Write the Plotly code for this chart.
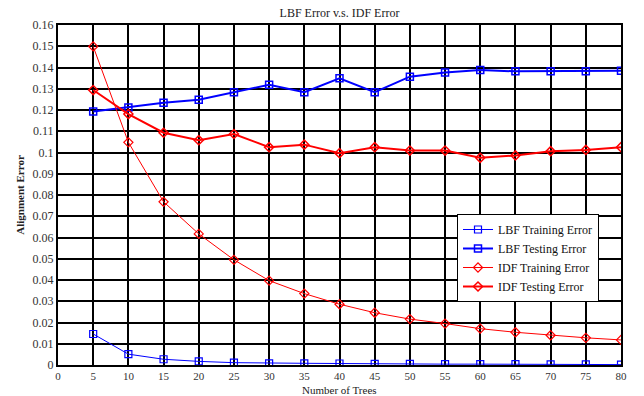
import plotly.graph_objects as go

trees = [5, 10, 15, 20, 25, 30, 35, 40, 45, 50, 55, 60, 65, 70, 75, 80]
lbf_train = [0.0146, 0.0051, 0.0027, 0.0017, 0.0011, 0.0008, 0.0008, 0.0007,
             0.0005, 0.0005, 0.0004, 0.0004, 0.0004, 0.0003, 0.0003, 0.0002]
lbf_test = [0.1193, 0.1212, 0.1234, 0.1248, 0.1284, 0.1319, 0.1284, 0.1349,
            0.1284, 0.1357, 0.1377, 0.1388, 0.1382, 0.1382, 0.1382, 0.1385]
idf_train = [0.1499, 0.1048, 0.0768, 0.0617, 0.0495, 0.0397, 0.0336, 0.0286,
             0.0246, 0.0216, 0.0195, 0.0171, 0.0154, 0.0140, 0.0128, 0.0118]
idf_test = [0.1294, 0.1181, 0.1093, 0.1058, 0.1087, 0.1025, 0.1037, 0.0997,
            0.1025, 0.1009, 0.1009, 0.0975, 0.0986, 0.1006, 0.1012, 0.1025]

x_ticks = list(range(0, 81, 5))
y_ticks = [i / 100 for i in range(0, 17)]
y_labels = ["0"] + [("%.2f" % v).rstrip("0") for v in y_ticks[1:]]

font = "Liberation Serif"
BLUE = "#0000FF"
RED = "#FF0000"

W, H = 644, 396
ML, MR, MT, MB = 58, 23, 25, 31
PW, PH = W - ML - MR, H - MT - MB
bottom = H - MB

fig = go.Figure()
fig.add_trace(go.Scatter(x=trees, y=lbf_train, name="LBF Training Error", mode="lines+markers",
                         line=dict(color=BLUE, width=1),
                         marker=dict(symbol="square-open", size=7, color=BLUE, line=dict(width=1.2))))
fig.add_trace(go.Scatter(x=trees, y=lbf_test, name="LBF Testing Error", mode="lines+markers",
                         line=dict(color=BLUE, width=2),
                         marker=dict(symbol="square-open", size=7, color=BLUE, line=dict(width=1.5))))
fig.add_trace(go.Scatter(x=trees, y=idf_train, name="IDF Training Error", mode="lines+markers",
                         line=dict(color=RED, width=1),
                         marker=dict(symbol="diamond-open", size=7, color=RED, line=dict(width=1.2))))
fig.add_trace(go.Scatter(x=trees, y=idf_test, name="IDF Testing Error", mode="lines+markers",
                         line=dict(color=RED, width=2),
                         marker=dict(symbol="diamond-open", size=7, color=RED, line=dict(width=1.5))))

fig.update_layout(
    width=W, height=H,
    margin=dict(l=ML, r=MR, t=MT, b=MB, autoexpand=False),
    paper_bgcolor="white", plot_bgcolor="white",
    font=dict(family=font, size=11, color="#222"),
    title=dict(text="LBF Error v.s. IDF Error", x=0.5, xref="paper", y=1 - 13 / H,
               yanchor="middle", xanchor="center", font=dict(family=font, size=12, color="#222")),
    showlegend=True,
    legend=dict(x=(457 - ML) / PW, y=(bottom - 214) / PH, xanchor="left", yanchor="top",
                bgcolor="white", bordercolor="black", borderwidth=1,
                font=dict(family=font, size=12, color="#111"),
                tracegroupgap=0, itemwidth=30),
    annotations=[dict(text="Number of Trees", xref="paper", yref="paper", x=0.5, y=(bottom - 390) / PH,
                      xanchor="center", yanchor="middle", showarrow=False, borderpad=0,
                      font=dict(family=font, size=11, color="#222"))],
)
fig.update_xaxes(range=[0, 80], tickvals=x_ticks, ticktext=[str(v) for v in x_ticks],
                 showgrid=True, gridcolor="black", gridwidth=1.5, automargin=False,
                 showline=True, linecolor="black", linewidth=2, mirror=True,
                 ticks="", zeroline=False, tickfont=dict(family=font, size=11, color="#333"))
fig.update_yaxes(range=[0, 0.16], tickvals=y_ticks, ticktext=y_labels,
                 showgrid=True, gridcolor="black", gridwidth=1.5, automargin=False,
                 showline=True, linecolor="black", linewidth=2, mirror=True,
                 ticks="", zeroline=False, tickfont=dict(family=font, size=12, color="#333"),
                 title=dict(text="<b>Alignment Error</b>", standoff=6, font=dict(family=font, size=11)))

fig.write_html("out.html")
